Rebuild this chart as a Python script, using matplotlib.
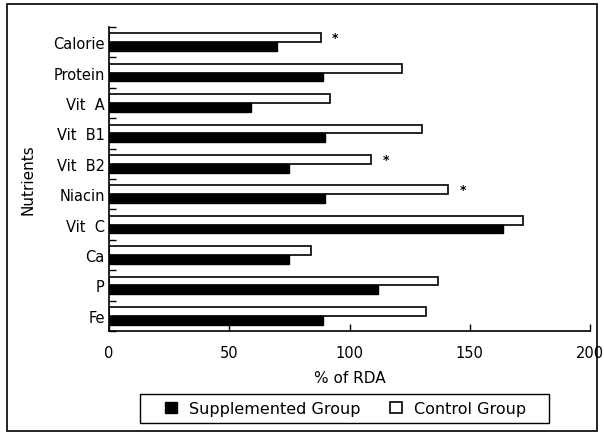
import numpy as np
import matplotlib.pyplot as plt
from matplotlib.patches import Rectangle

nutrients = ['Calorie', 'Protein', 'Vit  A', 'Vit  B1', 'Vit  B2',
             'Niacin', 'Vit  C', 'Ca', 'P', 'Fe']
supplemented = [70, 89, 59, 90, 75, 90, 164, 75, 112, 89]
control = [88, 122, 92, 130, 109, 141, 172, 84, 137, 132]
significant = [True, False, False, False, True, True, False, False, False, False]

fig = plt.figure(figsize=(6.04, 4.35), dpi=100)
ax = fig.add_axes([0.1805, 0.2368, 0.7963, 0.6988])

y = np.arange(len(nutrients))
h = 0.29
ax.barh(y - h/2, control, height=h, color='white', edgecolor='black', linewidth=1.2,
        label='Control Group')
ax.barh(y + h/2, supplemented, height=h, color='black', edgecolor='black', linewidth=1.0,
        label='Supplemented Group')

for i, s in enumerate(significant):
    if s:
        ax.text(control[i] + 6, y[i] - h/2, '*', ha='center', va='center',
                fontsize=9, fontweight='bold')

ax.set_xlim(0, 200)
ax.set_ylim(9.5, -0.5)
ax.set_xticks([0, 50, 100, 150, 200])
ax.tick_params(axis='x', direction='in', length=5, width=1, labelsize=10.5, pad=10)
ax.set_yticks(y)
ax.set_yticklabels(nutrients)
ax.set_yticks(np.arange(-0.5, 9.6, 1), minor=True)
ax.tick_params(axis='y', which='major', length=0, labelsize=10.5, pad=3)
ax.tick_params(axis='y', which='minor', direction='in', length=5, width=1)
for side in ['top', 'right']:
    ax.spines[side].set_visible(False)
ax.spines['left'].set_linewidth(1.2)
ax.spines['bottom'].set_linewidth(1.2)

ax.set_xlabel('% of RDA', fontsize=11, labelpad=7)
fig.text(0.047, 0.586, 'Nutrients', rotation=90, ha='center', va='center', fontsize=11)

# legend without its own frame, box drawn separately
handles, labels = ax.get_legend_handles_labels()
leg = fig.legend(handles[::-1], labels[::-1], ncol=2, loc='center',
                 bbox_to_anchor=(0.572, 0.0586), fontsize=11.5, frameon=False,
                 handlelength=0.75, handleheight=0.75,
                 columnspacing=1.8, handletextpad=0.8, borderpad=0.2)
fig.patches.append(Rectangle((140/604, 1 - 424/435), 409/604, 29/435,
                             transform=fig.transFigure, fill=False,
                             edgecolor='black', linewidth=1.0))

fig.patches.append(Rectangle((0.012, 0.008), 0.976, 0.98, transform=fig.transFigure,
                             fill=False, edgecolor='black', linewidth=1.2))

fig.savefig('out.png', dpi=100)
